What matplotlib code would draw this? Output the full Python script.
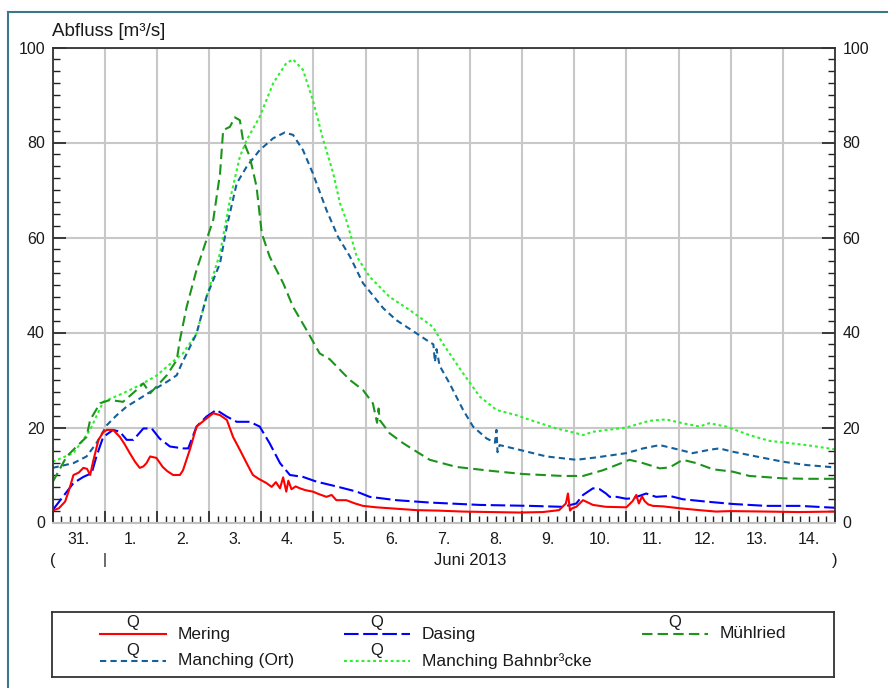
import numpy as np
import matplotlib.pyplot as plt
from matplotlib.ticker import MultipleLocator
from matplotlib.lines import Line2D

plt.rcParams['font.family'] = ['Liberation Sans', 'DejaVu Sans']

# time in days since 31 May 2013 00:00, discharge in m3/s
mering_t = [0, 0.12, 0.24, 0.32, 0.40, 0.50, 0.59, 0.66, 0.72, 0.78, 0.88, 0.97,
            1.04, 1.16, 1.29, 1.38, 1.48, 1.58, 1.67, 1.74, 1.80, 1.87, 1.99,
            2.11, 2.20, 2.31, 2.44, 2.50, 2.63, 2.76, 2.85, 2.95, 3.08, 3.21,
            3.34, 3.46, 3.59, 3.72, 3.84, 3.95, 4.10, 4.20, 4.28, 4.36, 4.42,
            4.48, 4.52, 4.58, 4.66, 4.74, 4.85, 4.99, 5.10, 5.25, 5.35, 5.44,
            5.63, 5.80, 5.95, 6.20, 6.46, 6.98, 7.40, 7.87, 8.40, 8.95, 9.40,
            9.71, 9.84, 9.88, 9.92, 9.96, 10.04, 10.17, 10.36, 10.61, 11.0,
            11.12, 11.19, 11.24, 11.30, 11.35, 11.42, 11.51, 11.70, 12.02,
            12.40, 12.72, 13.0, 13.68, 14.3, 15.0]
mering_q = [2.5, 3.0, 4.4, 7.0, 10, 10.5, 11.5, 11.3, 10, 13, 17.4, 19,
            19.5, 19.5, 18, 16.5, 14.6, 12.8, 11.5, 11.8, 12.5, 13.9, 13.6,
            11.7, 10.8, 10, 10, 11, 15.3, 20.2, 21, 21.9, 23, 22.6,
            21.6, 18, 15.3, 12.5, 10, 9.2, 8.3, 7.5, 8.5, 7.2, 9.5,
            6.5, 8.8, 7.0, 7.6, 7.2, 6.8, 6.5, 6.0, 5.4, 5.8, 4.7,
            4.7, 4.0, 3.5, 3.2, 3.0, 2.6, 2.5, 2.3, 2.2, 2.1, 2.2,
            2.6, 4.0, 6.1, 2.5, 3.0, 3.3, 4.7, 3.7, 3.3, 3.2,
            4.5, 5.8, 4.0, 5.5, 4.5, 3.8, 3.5, 3.4, 3.0,
            2.6, 2.3, 2.4, 2.3, 2.2, 2.3]

dasing_t = [0, 0.40, 0.59, 0.75, 0.84, 0.97, 1.16, 1.29, 1.42, 1.55, 1.74,
            1.90, 2.05, 2.25, 2.50, 2.60, 2.76, 2.95, 3.14, 3.34, 3.53, 3.78,
            3.97, 4.16, 4.36, 4.55, 4.80, 5.06, 5.44, 5.83, 6.08, 6.59, 7.23,
            8.19, 9.15, 9.78, 10.04, 10.17, 10.36, 10.49, 10.61, 10.68, 10.81,
            11.0, 11.12, 11.38, 11.57, 11.83, 12.08, 12.53, 13.04, 13.68,
            14.32, 15.0]
dasing_q = [2.6, 8.3, 9.6, 10.4, 13.9, 18, 19.5, 19.1, 17.4, 17.4, 19.8,
            19.8, 17.7, 16, 15.6, 15.6, 20.2, 22.3, 23.7, 22.3, 21.2, 21.2,
            20.2, 16.7, 12.5, 10, 9.6, 8.6, 7.6, 6.5, 5.4, 4.7, 4.2,
            3.7, 3.5, 3.3, 4.0, 5.8, 7.2, 7.0, 6.1, 5.4, 5.4,
            5.0, 5.1, 6.1, 5.4, 5.6, 4.9, 4.4, 3.9, 3.5,
            3.5, 3.1]

ort_t = [0, 0.40, 0.65, 0.84, 1.04, 1.23, 1.42, 1.67, 1.93, 2.19, 2.38, 2.47,
         2.76, 2.95, 3.21, 3.34, 3.53, 3.72, 3.97, 4.23, 4.45, 4.61, 4.80,
         4.99, 5.25, 5.47, 5.70, 5.95, 6.34, 6.59, 6.98, 7.17, 7.30, 7.33,
         7.36, 7.42, 7.61, 7.87, 8.06, 8.32, 8.48, 8.51, 8.53, 8.57, 8.95,
         9.47, 10.04, 10.42, 11.00, 11.32, 11.64, 12.02, 12.27, 12.59, 12.78,
         13.04, 13.49, 14.00, 14.45, 15.00]
ort_q = [11.5, 12.5, 13.9, 16.7, 20.5, 22.6, 24.4, 26.1, 27.9, 29.6, 31.0, 33.3,
         39.8, 47.5, 54.6, 62.3, 71.4, 74.9, 78.4, 80.9, 82.1, 81.6, 78.4,
         73.5, 65.8, 60.2, 56.0, 50.4, 45.1, 42.6, 39.8, 38.4, 37.5, 33.8,
         36.5, 33.0, 29.3, 23.7, 20.2, 17.7, 16.8, 19.5, 14.8, 16.3, 15.3,
         13.9, 13.2, 13.7, 14.6, 15.6, 16.3, 15.3, 14.6, 15.3, 15.6,
         14.9, 13.9, 12.8, 12.1, 11.6]

bahn_t = [0, 0.40, 0.72, 0.97, 1.35, 1.67, 1.99, 2.31, 2.50, 2.76, 2.95, 3.21,
          3.40, 3.59, 3.72, 3.97, 4.23, 4.48, 4.61, 4.80, 4.99, 5.19, 5.38,
          5.51, 5.63, 5.83, 6.08, 6.46, 6.85, 7.29, 7.48, 7.87, 8.19, 8.51,
          8.89, 9.15, 9.66, 10.04, 10.17, 10.36, 11.00, 11.44, 11.76, 12.08,
          12.40, 12.59, 12.91, 13.36, 13.74, 14.13, 14.45, 15.00]
bahn_q = [12.8, 14.6, 19.5, 25.4, 27.2, 28.9, 30.9, 33.9, 35.6, 39.8, 47.5, 56.7,
          67.9, 77.0, 80.5, 85.4, 92.5, 96.7, 97.5, 95.3, 88.9, 80.5, 73.5,
          67.2, 63.7, 56.0, 51.7, 47.5, 44.7, 41.2, 37.7, 31.4, 26.5, 23.7,
          22.6, 21.6, 19.8, 18.8, 18.4, 19.1, 20.0, 21.4, 21.7, 20.9,
          20.2, 20.9, 20.2, 18.4, 17.2, 16.7, 16.3, 15.4]

muehl_t = [0, 0.27, 0.46, 0.65, 0.72, 0.91, 1.10, 1.35, 1.61, 1.74, 1.87, 1.99,
           2.19, 2.38, 2.44, 2.57, 2.76, 2.95, 3.08, 3.21, 3.27, 3.40, 3.49,
           3.59, 3.65, 3.78, 3.91, 4.01, 4.16, 4.42, 4.61, 4.87, 5.12, 5.31,
           5.70, 5.95, 6.14, 6.22, 6.25, 6.27, 6.46, 6.72, 6.98, 7.23, 7.74,
           8.38, 9.02, 9.78, 10.17, 10.55, 10.81, 11.06, 11.32, 11.64, 11.83,
           12.08, 12.34, 12.66, 13.04, 13.36, 14.00, 14.45, 15.00]
muehl_q = [8.5, 13.9, 16.0, 18.0, 21.6, 25.1, 25.8, 25.4, 27.9, 29.3, 27.2, 28.6,
           31.0, 34.2, 38.4, 45.4, 53.2, 59.5, 63.7, 73.5, 82.6, 83.3, 85.3,
           84.7, 80.5, 77.0, 70.7, 60.9, 56.0, 50.4, 45.4, 40.5, 35.6, 34.4,
           30.0, 27.9, 25.1, 21.0, 24.0, 21.6, 18.8, 16.7, 14.9, 13.2, 11.7,
           10.9, 10.2, 9.8, 9.8, 11.0, 12.1, 13.2, 12.5, 11.4, 11.6,
           13.2, 12.5, 11.2, 10.7, 9.8, 9.3, 9.2, 9.2]

day_labels = ['31.', '1.', '2.', '3.', '4.', '5.', '6.', '7.', '8.', '9.',
              '10.', '11.', '12.', '13.', '14.']
month_label = 'Juni 2013'

W, H = 888, 688
fig = plt.figure(figsize=(W / 100, H / 100), dpi=100)
ax = fig.add_axes([52.6 / W, 1 - 522.5 / H, 782.4 / W, 475 / H])

series = [
    (mering_t, mering_q, 'Mering', '#ff0000', None),
    (dasing_t, dasing_q, 'Dasing', '#0000ff', (7, 2.2)),
    (muehl_t, muehl_q, 'Mühlried', '#1c941c', (5, 2.5)),
    (ort_t, ort_q, 'Manching (Ort)', '#14609b', (3, 2)),
    (bahn_t, bahn_q, 'Manching Bahnbr³cke', '#2cf02c', (1.4, 1.4)),
]
# draw order: bottom ones first like original
for t, q, name, col, dash in [series[4], series[3], series[2], series[1], series[0]]:
    ln, = ax.plot(t, q, color=col, lw=1.5)
    if dash:
        ln.set_dashes(dash)

ax.set_xlim(0, 15)
ax.set_ylim(0, 100)
ax.xaxis.set_major_locator(MultipleLocator(1))
ax.xaxis.set_minor_locator(MultipleLocator(1 / 6))
ax.yaxis.set_major_locator(MultipleLocator(20))
ax.yaxis.set_minor_locator(MultipleLocator(2.5))
ax.grid(which='major', color='#c8c8c8', lw=1.5)

ax.tick_params(axis='x', which='both', direction='in', labelbottom=False,
               color='#222222')
ax.tick_params(axis='x', which='major', length=9, width=1.2)
ax.tick_params(axis='x', which='minor', length=5, width=1)
ax.tick_params(axis='y', which='both', direction='in', left=True, right=True,
               labelleft=True, labelright=True, color='#222222')
ax.tick_params(axis='y', which='major', length=9.5, width=1.2, labelsize=11.5,
               pad=5.5, labelcolor='#1a1a1a')
ax.tick_params(axis='y', which='minor', length=5, width=1)

for s in ['left', 'right', 'top']:
    ax.spines[s].set_color('#333333')
    ax.spines[s].set_linewidth(1.3)
ax.spines['bottom'].set_color('#c0c0c0')
ax.spines['bottom'].set_linewidth(1.5)

# day labels at noon, month row below
tr = ax.get_xaxis_transform()
for i, lab in enumerate(day_labels):
    ax.text(i + 0.5, -0.035, lab, transform=tr, ha='center', va='center',
            fontsize=11.5, color='#1a1a1a')
ax.text(0, -0.079, '(', transform=tr, ha='center', va='center', fontsize=12,
        color='#1a1a1a')
ax.text(1, -0.079, '|', transform=tr, ha='center', va='center', fontsize=11,
        color='#1a1a1a')
ax.text(8, -0.079, month_label, transform=tr, ha='center', va='center',
        fontsize=12, color='#1a1a1a')
ax.text(15, -0.079, ')', transform=tr, ha='center', va='center', fontsize=12,
        color='#1a1a1a')

fig.text(52 / W, 1 - 36 / H, 'Abfluss [m³/s]', ha='left', va='baseline',
         fontsize=13.5, color='#1a1a1a')

# legend box drawn by hand (pixel-like coordinates inside the box)
lax = fig.add_axes([52 / W, 1 - 677 / H, 782 / W, 65 / H])
lax.set_xlim(52, 834)
lax.set_ylim(677, 612)
lax.set_xticks([])
lax.set_yticks([])
for s in lax.spines.values():
    s.set_color('#333333')
    s.set_linewidth(1.3)
slots = [(100, 634), (344, 634), (642, 634), (100, 661), (344, 661)]
for (t, q, name, col, dash), (x0, y0) in zip(series, slots):
    ln, = lax.plot([x0, x0 + 66], [y0, y0], color=col, lw=1.5)
    if dash:
        ln.set_dashes(dash)
    lax.text(x0 + 33, y0 - 11, 'Q', ha='center', va='center', fontsize=12,
             color='#1a1a1a')
    lax.text(x0 + 78, y0, name, ha='left', va='center', fontsize=12.5,
             color='#1a1a1a')

# outer teal frame
fc = '#3c788c'
fig.add_artist(Line2D([7.5 / W, 7.5 / W], [0, 1 - 12 / H],
                      transform=fig.transFigure, color=fc, lw=1.5))
fig.add_artist(Line2D([7.5 / W, 1], [1 - 12 / H, 1 - 12 / H],
                      transform=fig.transFigure, color=fc, lw=1.5))

fig.savefig('out.png', dpi=100)
